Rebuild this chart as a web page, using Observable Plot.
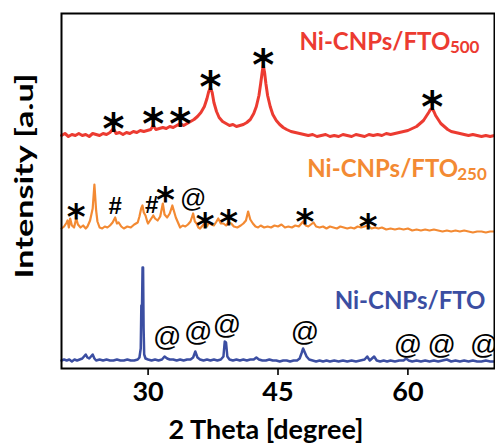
<!DOCTYPE html>
<html><head><meta charset="utf-8">
<script src="https://cdn.jsdelivr.net/npm/d3@7"></script>
<script src="https://cdn.jsdelivr.net/npm/@observablehq/plot@0.6"></script>
<style>body{margin:0;background:#fff;}</style>
</head><body><div id="chart"></div>
<script>
// ---- data (2θ in degrees, intensity in a.u. incl. vertical offset) ----
const xTicks = [30, 45, 60];
const seriesNames = ["Ni-CNPs/FTO", "Ni-CNPs/FTO", "Ni-CNPs/FTO"];
const seriesSubs = ["500", "250", ""];

const redTheta = [20.0,20.4,20.8,21.2,21.6,22.0,22.4,22.8,23.2,23.6,24.0,24.4,24.8,25.2,25.6,26.0,26.3,26.7,27.1,27.5,27.9,28.3,28.7,29.1,29.5,29.9,30.3,30.6,30.9,31.3,31.7,32.1,32.5,32.9,33.3,33.7,34.1,34.5,34.9,35.3,35.7,36.1,36.5,36.8,37.0,37.2,37.4,37.6,37.9,38.2,38.6,39.0,39.4,39.8,40.2,40.6,41.0,41.4,41.8,42.2,42.5,42.8,43.0,43.2,43.3,43.45,43.6,43.8,44.1,44.4,44.8,45.2,45.6,46.0,46.5,47.0,47.5,48.0,48.5,49.0,49.5,50.0,50.5,51.0,51.5,52.0,52.5,53.0,53.5,54.0,54.5,55.0,55.5,56.0,56.5,57.0,57.5,58.0,58.5,59.0,59.5,60.0,60.5,61.0,61.4,61.8,62.1,62.4,62.6,62.8,63.0,63.2,63.5,63.8,64.2,64.6,65.0,65.5,66.0,66.5,67.0,67.5,68.0,68.5,69.0,69.5,70.0];
const redInt = [233,235,232,234,233,235,233,234,232,235,234,233,235,234,236,240,235,236,234,236,235,237,236,238,237,238,239,243,239,240,241,240,242,241,243,245,243,245,247,249,252,256,262,270,277,281,276,266,257,251,247,245,243,244,242,243,244,246,249,255,262,273,285,298,303,296,285,273,262,254,248,244,241,239,237,236,235,234,233,234,232,233,234,232,233,232,234,233,232,234,233,232,234,233,234,233,235,234,235,236,237,238,240,242,245,248,252,256,259,260,257,253,249,245,242,239,237,236,235,234,233,234,233,232,233,232,233];

const orangeTheta = [20.0,20.3,20.6,20.7,20.85,21.0,21.2,21.45,21.7,21.9,22.2,22.5,22.8,23.0,23.3,23.6,23.8,24.0,24.15,24.4,24.7,25.0,25.3,25.6,25.9,26.2,26.4,26.6,26.9,27.2,27.6,28.0,28.4,28.8,29.0,29.2,29.35,29.5,29.7,29.9,30.0,30.3,30.6,30.8,31.1,31.4,31.7,31.9,32.2,32.5,32.8,33.0,33.2,33.5,33.7,34.0,34.3,34.6,34.9,35.2,35.4,35.6,35.8,36.0,36.3,36.6,36.8,37.0,37.3,37.6,37.9,38.1,38.4,38.7,39.0,39.3,39.6,39.9,40.3,40.7,41.0,41.3,41.55,41.8,42.1,42.4,42.7,43.0,43.4,43.8,44.2,44.6,45.0,45.4,45.8,46.2,46.6,47.0,47.4,47.7,47.9,48.2,48.5,48.8,49.1,49.4,49.8,50.2,50.6,51.0,51.4,51.8,52.2,52.6,53.0,53.4,53.8,54.2,54.6,55.0,55.4,55.8,56.2,56.6,57.0,57.5,58.0,58.5,59.0,59.5,60.0,60.5,61.0,61.5,62.0,62.5,63.0,63.5,64.0,64.5,65.0,65.5,66.0,66.5,67.0,67.5,68.0,68.5,69.0,69.5,70.0];
const orangeInt = [140,142,146,148,141,150,143,141,150,144,141,143,140,142,148,160,184,158,147,141,140,142,141,143,146,151,145,146,142,140,142,141,144,146,152,160,163,156,153,147,145,149,153,150,148,152,165,154,151,155,163,157,151,145,141,143,142,144,147,155,147,145,141,140,143,146,142,146,144,143,147,150,145,145,143,146,145,142,141,143,145,148,157,149,145,142,141,143,141,142,141,143,142,144,141,142,141,143,142,145,147,143,142,144,146,142,141,142,140,142,141,140,142,141,140,141,140,142,141,142,143,140,141,140,141,139,140,139,140,139,140,138,139,138,139,138,139,138,137,138,137,138,137,138,137,136,137,137,136,137,137];

const blueTheta = [20.0,20.3,20.6,20.9,21.2,21.5,21.8,22.1,22.4,22.6,22.8,23.0,23.2,23.4,23.6,23.8,24.0,24.4,24.8,25.2,25.6,26.0,26.4,26.8,27.2,27.6,28.0,28.4,28.8,29.0,29.15,29.22,29.3,29.36,29.42,29.48,29.55,29.7,30.0,30.4,30.8,31.2,31.6,31.9,32.2,32.5,32.9,33.3,33.7,34.1,34.5,34.9,35.2,35.45,35.7,36.0,36.4,36.8,37.2,37.6,38.0,38.4,38.7,38.85,39.0,39.15,39.4,39.8,40.2,40.6,41.0,41.4,41.8,42.2,42.5,42.8,43.2,43.6,44.0,44.4,44.8,45.2,45.6,46.0,46.4,46.8,47.2,47.5,47.75,47.9,48.1,48.3,48.6,49.0,49.4,49.8,50.2,50.6,51.0,51.5,52.0,52.5,53.0,53.5,54.0,54.5,55.0,55.3,55.6,56.1,56.4,56.8,57.2,57.6,58.0,58.5,59.0,59.5,59.8,60.1,60.5,61.0,61.5,62.0,62.5,63.0,63.5,64.0,64.5,65.0,65.5,66.0,66.5,67.0,67.5,68.0,68.5,69.0,69.5,70.0];
const blueInt = [8,9,8,9,7,9,8,9,10,12,14,11,10,12,14,10,8,9,8,9,8,8,9,8,8,9,8,8,9,11,20,63,63,101,101,40,14,10,9,8,9,8,9,12,10,9,9,8,9,8,9,9,11,17,11,9,8,9,8,9,8,9,12,27,26,12,9,8,9,8,9,8,9,9,11,9,8,8,9,8,8,7,8,8,7,8,8,10,16,20,16,12,9,8,7,8,7,8,7,8,7,8,7,8,7,8,9,12,8,12,8,7,8,7,8,7,8,8,10,8,7,8,7,8,7,8,7,8,9,7,8,7,8,7,8,7,7,8,7,7];

// peak markers: 2θ position and intensity (marker centre)
const redStarTheta = [26.0, 30.6, 33.7, 37.2, 43.3, 62.8];
const redStarY     = [249, 254, 254, 291, 313, 271];
const orangeStarTheta = [21.7, 32.0, 36.6, 39.3, 48.1, 55.4];
const orangeStarY     = [160, 177, 151, 154, 155, 150];
const orangeHashTheta = [26.2, 30.4];
const orangeHashY     = [162, 163];
const orangeAtTheta = [35.2];
const orangeAtY     = [170];
const blueAtTheta = [32.2, 35.8, 39.1, 48.1, 60.0, 63.9, 68.8];
const blueAtY     = [31, 36, 43, 36, 23, 23, 23];

// series label anchors (right end of main text / baseline)
const labelTheta = [64.9, 65.8, 68.96];
const labelY = [319, 192, 60];
const subTheta = [64.85, 65.7];
const subY = [316, 189];

const colors = ["#ec3b31", "#f38a33", "#3b4ea2"];

const rows = (t, v) => t.map((x, i) => ({theta: x, intensity: v[i]}));
const pts = (t, v) => t.map((x, i) => ({theta: x, y: v[i]}));

const red = rows(redTheta, redInt);
const orange = rows(orangeTheta, orangeInt);
const blue = rows(blueTheta, blueInt);

const labels = labelTheta.map((x, i) => ({theta: x, y: labelY[i], text: seriesNames[i], color: colors[i]}));
const subs = subTheta.map((x, i) => ({theta: x, y: subY[i], text: seriesSubs[i], color: colors[i]}));

const plot = Plot.plot({
  width: 495,
  height: 444,
  marginLeft: 61,
  marginRight: 1,
  marginTop: 13,
  marginBottom: 76,
  style: {fontFamily: "Lato", background: "#fff", overflow: "visible"},
  x: {domain: [20, 70]},
  y: {domain: [0, 355], axis: null},
  marks: [
    Plot.line(blue, {x: "theta", y: "intensity", stroke: colors[2], strokeWidth: 2.5}),
    Plot.line(orange, {x: "theta", y: "intensity", stroke: colors[1], strokeWidth: 2.2}),
    Plot.line(red, {x: "theta", y: "intensity", stroke: colors[0], strokeWidth: 3}),
    Plot.text(pts(redStarTheta, redStarY), {x: "theta", y: "y", text: () => "*", fontFamily: "DejaVu Sans", fontWeight: "bold", fontSize: 42, dy: 11, fill: "#000"}),
    Plot.text(pts(orangeStarTheta, orangeStarY), {x: "theta", y: "y", text: () => "*", fontFamily: "DejaVu Sans", fontWeight: "bold", fontSize: 36, dy: 9, fill: "#000"}),
    Plot.text(pts(orangeHashTheta, orangeHashY), {x: "theta", y: "y", text: () => "#", fontFamily: "Liberation Sans", fontWeight: "bold", fontSize: 24, fill: "#000"}),
    Plot.text(pts(orangeAtTheta, orangeAtY), {x: "theta", y: "y", text: () => "@", fontFamily: "Liberation Sans", fontSize: 26, fill: "#000"}),
    Plot.text(pts(blueAtTheta, blueAtY), {x: "theta", y: "y", text: () => "@", fontFamily: "Liberation Sans", fontSize: 28, fill: "#000"}),
    Plot.text(labels, {x: "theta", y: "y", text: "text", fill: "color", textAnchor: "end", lineAnchor: "bottom", fontSize: 24, fontWeight: "bold"}),
    Plot.text(subs, {x: "theta", y: "y", text: "text", fill: "color", textAnchor: "start", lineAnchor: "bottom", fontSize: 17, fontWeight: "bold"}),
    Plot.frame({stroke: "#000", strokeWidth: 2}),
    Plot.axisX({ticks: xTicks, tickSize: 7, tickPadding: 6, fontSize: 27, fontWeight: "bold", label: null, stroke: "#000", strokeWidth: 1.6, fill: "#000"}),
    Plot.text(["2 Theta [degree]"], {frameAnchor: "bottom", lineAnchor: "bottom", dy: 70, dx: -12, fontSize: 27, fontWeight: "bold", fill: "#000"}),
    Plot.text(["Intensity [a.u]"], {frameAnchor: "left", rotate: -90, textAnchor: "middle", lineAnchor: "bottom", dx: -29, dy: -15, fontSize: 25, fontWeight: "bold", fill: "#000"})
  ]
});
// the reference's y-axis title is stretched along its length
d3.select(plot).selectAll("text")
  .filter(function () { return this.textContent === "Intensity [a.u]"; })
  .attr("textLength", 205)
  .attr("lengthAdjust", "spacingAndGlyphs");
document.getElementById("chart").appendChild(plot);
</script>
</body></html>
